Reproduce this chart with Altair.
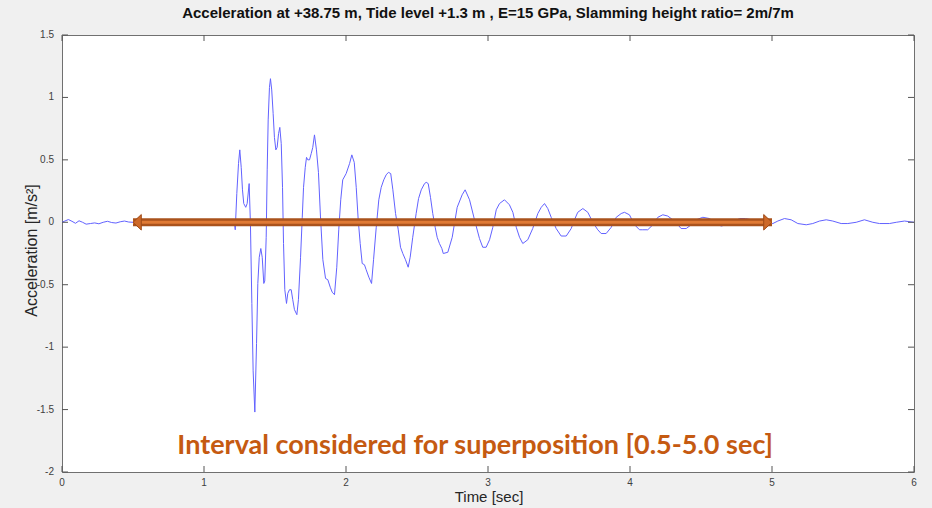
import altair as alt
import pandas as pd

# ---------------- data ----------------
time_s = [
    0.000, 0.020, 0.045, 0.070, 0.095, 0.120, 0.145, 0.170, 0.200, 0.230,
    0.260, 0.290, 0.320, 0.350, 0.380, 0.410, 0.440, 0.470, 0.500, 0.550,
    0.620, 0.700, 0.780, 0.860, 0.940, 1.020, 1.100, 1.180, 1.215, 1.220,
    1.231, 1.243, 1.252, 1.262, 1.271, 1.280, 1.294, 1.304, 1.318, 1.327,
    1.337, 1.346, 1.358, 1.370, 1.379, 1.389, 1.400, 1.410, 1.421, 1.428,
    1.438, 1.445, 1.452, 1.461, 1.468, 1.477, 1.487, 1.496, 1.506, 1.515,
    1.525, 1.534, 1.544, 1.553, 1.560, 1.569, 1.581, 1.590, 1.602, 1.614,
    1.625, 1.637, 1.654, 1.665, 1.680, 1.692, 1.701, 1.713, 1.722, 1.731,
    1.743, 1.755, 1.766, 1.778, 1.792, 1.806, 1.820, 1.837, 1.856, 1.872,
    1.889, 1.903, 1.919, 1.935, 1.949, 1.963, 1.977, 2.001, 2.025, 2.041,
    2.058, 2.072, 2.086, 2.100, 2.114, 2.130, 2.142, 2.161, 2.180, 2.194,
    2.213, 2.231, 2.248, 2.266, 2.283, 2.299, 2.315, 2.330, 2.349, 2.368,
    2.384, 2.400, 2.419, 2.438, 2.452, 2.470, 2.494, 2.511, 2.530, 2.553,
    2.565, 2.579, 2.595, 2.611, 2.628, 2.642, 2.658, 2.675, 2.685, 2.717,
    2.748, 2.783, 2.818, 2.839, 2.870, 2.905, 2.940, 2.963, 2.987, 3.011,
    3.034, 3.058, 3.081, 3.116, 3.151, 3.175, 3.199, 3.222, 3.245, 3.280,
    3.315, 3.351, 3.375, 3.398, 3.421, 3.445, 3.480, 3.515, 3.551, 3.586,
    3.609, 3.632, 3.668, 3.703, 3.738, 3.773, 3.797, 3.832, 3.868, 3.903,
    3.938, 3.961, 3.996, 4.032, 4.067, 4.090, 4.125, 4.161, 4.196, 4.231,
    4.266, 4.301, 4.337, 4.360, 4.396, 4.431, 4.466, 4.513, 4.560, 4.607,
    4.642, 4.678, 4.724, 4.771, 4.813, 4.854, 4.912, 4.959, 5.006, 5.041,
    5.088, 5.135, 5.182, 5.241, 5.287, 5.335, 5.382, 5.428, 5.487, 5.534,
    5.593, 5.651, 5.710, 5.757, 5.827, 5.875, 5.933, 6.000,
]
accel = [
    0.000, 0.010, 0.022, 0.008, -0.008, 0.012, 0.000, -0.015, -0.010, -0.005,
    -0.012, 0.000, 0.008, -0.002, -0.006, 0.004, 0.010, 0.002, 0.000, -0.010,
    0.010, -0.010, 0.010, -0.010, 0.010, -0.010, 0.010, 0.000, -0.010, -0.060,
    0.230, 0.470, 0.580, 0.440, 0.260, 0.150, 0.120, 0.150, 0.310, -0.010,
    -0.650, -1.190, -1.520, -0.970, -0.490, -0.280, -0.210, -0.280, -0.490, -0.470,
    -0.120, 0.420, 0.820, 1.080, 1.150, 1.060, 0.870, 0.680, 0.580, 0.600,
    0.710, 0.760, 0.630, 0.280, -0.170, -0.540, -0.650, -0.570, -0.540, -0.540,
    -0.620, -0.700, -0.740, -0.620, -0.280, 0.040, 0.280, 0.440, 0.520, 0.500,
    0.500, 0.550, 0.600, 0.700, 0.580, 0.400, 0.050, -0.300, -0.450, -0.460,
    -0.520, -0.560, -0.580, -0.360, -0.060, 0.180, 0.340, 0.390, 0.470, 0.540,
    0.480, 0.280, 0.020, -0.170, -0.330, -0.340, -0.380, -0.440, -0.490, -0.300,
    -0.040, 0.180, 0.280, 0.340, 0.380, 0.400, 0.390, 0.260, 0.070, -0.060,
    -0.200, -0.250, -0.300, -0.360, -0.280, -0.120, 0.070, 0.190, 0.260, 0.310,
    0.320, 0.310, 0.200, 0.070, -0.040, -0.120, -0.170, -0.210, -0.250, -0.240,
    -0.120, 0.120, 0.220, 0.260, 0.180, 0.020, -0.130, -0.200, -0.200, -0.140,
    -0.040, 0.100, 0.150, 0.180, 0.140, 0.080, -0.040, -0.120, -0.170, -0.140,
    -0.050, 0.070, 0.120, 0.150, 0.110, 0.040, -0.050, -0.110, -0.110, -0.050,
    0.020, 0.080, 0.110, 0.080, 0.000, -0.060, -0.090, -0.090, -0.040, 0.040,
    0.070, 0.080, 0.060, -0.020, -0.060, -0.060, -0.060, -0.020, 0.040, 0.060,
    0.050, 0.020, -0.020, -0.050, -0.050, -0.020, 0.020, 0.040, 0.030, -0.010,
    -0.030, -0.020, 0.000, 0.030, 0.030, 0.020, 0.000, -0.010, -0.010, 0.010,
    0.030, 0.020, -0.010, -0.020, -0.010, 0.010, 0.020, 0.010, -0.010, -0.010,
    0.000, 0.020, 0.000, -0.010, -0.010, 0.000, 0.010, 0.000,
]
x_ticks = [0, 1, 2, 3, 4, 5, 6]
x_labels = ["0", "1", "2", "3", "4", "5", "6"]
y_ticks = [1.5, 1, 0.5, 0, -0.5, -1, -1.5, -2]
y_labels = ["1.5", "1", "0.5", "0", "-0.5", "-1", "-1.5", "-2"]
interval = [0.5, 5.0]

title_text = "Acceleration at +38.75 m, Tide level +1.3 m , E=15 GPa, Slamming height ratio= 2m/7m"
x_title = "Time [sec]"
y_title = "Acceleration [m/s²]"
annotation = "Interval considered for superposition [0.5-5.0 sec]"
annot_pos = [2.91, -1.79]

W, H = 852, 437
FONT = "Liberation Sans"
TICK_COLOR = "#555555"
LABEL_COLOR = "#404040"

xs = alt.Scale(domain=[0, 6], nice=False, zero=False)
ys = alt.Scale(domain=[-2, 1.5], nice=False, zero=False)

df = pd.DataFrame({"t": time_s, "a": accel})
xt = pd.DataFrame({"v": x_ticks, "lab": x_labels})
yt = pd.DataFrame({"v": y_ticks, "lab": y_labels})
arrow = pd.DataFrame({"t0": [interval[0]], "t1": [interval[1]], "z": [0]})
heads = pd.DataFrame({"t": interval, "z": [0, 0], "side": ["left", "right"]})
ann = pd.DataFrame({"t": [annot_pos[0]], "a": [annot_pos[1]], "txt": [annotation]})
one = pd.DataFrame({"k": [0]})

X = lambda f: alt.X(f, scale=xs, axis=None)
Y = lambda f: alt.Y(f, scale=ys, axis=None)

line = alt.Chart(df).mark_line(color="#6262ff", strokeWidth=1).encode(
    x=X("t:Q"), y=Y("a:Q"))

# inward ticks on all four sides (MATLAB box style)
tb = alt.Chart(xt).mark_rule(color=TICK_COLOR, strokeWidth=1).encode(
    x=X("v:Q"), y=alt.value(H), y2=alt.value(H - 6))
tt = alt.Chart(xt).mark_rule(color=TICK_COLOR, strokeWidth=1).encode(
    x=X("v:Q"), y=alt.value(0), y2=alt.value(6))
tl = alt.Chart(yt).mark_rule(color=TICK_COLOR, strokeWidth=1).encode(
    y=Y("v:Q"), x=alt.value(0), x2=alt.value(6))
tr = alt.Chart(yt).mark_rule(color=TICK_COLOR, strokeWidth=1).encode(
    y=Y("v:Q"), x=alt.value(W), x2=alt.value(W - 6))

# tick labels and axis titles
xl = alt.Chart(xt).mark_text(font=FONT, fontSize=10, color=LABEL_COLOR,
                             align="center", baseline="middle").encode(
    x=X("v:Q"), y=alt.value(H + 11), text="lab:N")
yl = alt.Chart(yt).mark_text(font=FONT, fontSize=10, color=LABEL_COLOR,
                             align="right", baseline="middle").encode(
    y=Y("v:Q"), x=alt.value(-8), text="lab:N")
xtitle = alt.Chart(one).mark_text(font=FONT, fontSize=15, color="#262626",
                                  align="center", baseline="middle",
                                  text=x_title).encode(
    x=alt.value(W / 2 + 1), y=alt.value(H + 25))
ytitle = alt.Chart(one).mark_text(font=FONT, fontSize=16, color="#262626",
                                  align="center", baseline="middle", angle=270,
                                  text=y_title).encode(
    x=alt.value(-30), y=alt.value(H / 2 - 3))

shaft_outer = alt.Chart(arrow).mark_rule(color="#a9521c", strokeWidth=8, strokeCap="butt").encode(
    x=X("t0:Q"), x2="t1:Q", y=Y("z:Q"))
shaft_inner = alt.Chart(arrow).mark_rule(color="#e07a34", strokeWidth=3, strokeCap="butt").encode(
    x=X("t0:Q"), x2="t1:Q", y=Y("z:Q"))

left_head = alt.Chart(heads).transform_filter(alt.datum.side == "left").mark_point(
    shape="M 0 0 L 1.07 -1 L 1.07 1 Z", size=240, filled=True, opacity=1,
    fill="#cd6828", stroke="#9e4a17", strokeWidth=1).encode(
    x=X("t:Q"), y=Y("z:Q"))
right_head = alt.Chart(heads).transform_filter(alt.datum.side == "right").mark_point(
    shape="M 0 0 L -1.07 -1 L -1.07 1 Z", size=240, filled=True, opacity=1,
    fill="#cd6828", stroke="#9e4a17", strokeWidth=1).encode(
    x=X("t:Q"), y=Y("z:Q"))

text = alt.Chart(ann).mark_text(
    font="Lato", fontSize=27, fontWeight="bold", color="#c55a11",
    align="center", baseline="middle").encode(
    x=X("t:Q"), y=Y("a:Q"), text="txt:N")

chart = alt.layer(
    line, tb, tt, tl, tr, xl, yl, xtitle, ytitle,
    shaft_outer, shaft_inner, left_head, right_head, text
).properties(
    width=W, height=H,
    title=alt.TitleParams(title_text, font=FONT, fontSize=15, fontWeight="bold",
                          color="#111111", anchor="middle", offset=9),
    autosize=alt.AutoSizeParams(type="none"),
    padding={"left": 62, "top": 35, "right": 18, "bottom": 36},
    background="#f0f0f0",
).configure_view(fill="white", stroke="#707070", strokeWidth=1)

chart.save("out.html", embed_options={"renderer": "svg", "actions": False})
